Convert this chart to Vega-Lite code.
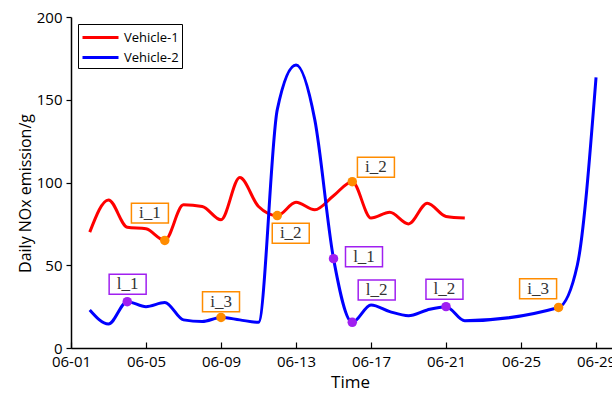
{
  "$schema": "https://vega.github.io/schema/vega-lite/v6.json",
  "autosize": "none",
  "padding": {"left": 71, "top": 17, "right": 0, "bottom": 46},
  "width": 541,
  "height": 331,
  "config": {
    "view": {"stroke": null},
    "font": "Open Sans"
  },
  "datasets": {
    "series": [
      {"date": "2023-06-02T00:00", "value": 70, "series": "Vehicle-1"},
      {"date": "2023-06-03T00:00", "value": 89.5, "series": "Vehicle-1"},
      {"date": "2023-06-04T00:00", "value": 73, "series": "Vehicle-1"},
      {"date": "2023-06-05T00:00", "value": 72, "series": "Vehicle-1"},
      {"date": "2023-06-06T00:00", "value": 65, "series": "Vehicle-1"},
      {"date": "2023-06-07T00:00", "value": 86.5, "series": "Vehicle-1"},
      {"date": "2023-06-08T00:00", "value": 85.5, "series": "Vehicle-1"},
      {"date": "2023-06-09T00:00", "value": 77.5, "series": "Vehicle-1"},
      {"date": "2023-06-10T00:00", "value": 103, "series": "Vehicle-1"},
      {"date": "2023-06-11T00:00", "value": 85.5, "series": "Vehicle-1"},
      {"date": "2023-06-12T00:00", "value": 80, "series": "Vehicle-1"},
      {"date": "2023-06-13T00:00", "value": 88, "series": "Vehicle-1"},
      {"date": "2023-06-14T00:00", "value": 83.5, "series": "Vehicle-1"},
      {"date": "2023-06-15T00:00", "value": 92, "series": "Vehicle-1"},
      {"date": "2023-06-16T00:00", "value": 100.5, "series": "Vehicle-1"},
      {"date": "2023-06-17T00:00", "value": 78.5, "series": "Vehicle-1"},
      {"date": "2023-06-18T00:00", "value": 82, "series": "Vehicle-1"},
      {"date": "2023-06-19T00:00", "value": 75, "series": "Vehicle-1"},
      {"date": "2023-06-20T00:00", "value": 87.5, "series": "Vehicle-1"},
      {"date": "2023-06-21T00:00", "value": 79.5, "series": "Vehicle-1"},
      {"date": "2023-06-22T00:00", "value": 78.5, "series": "Vehicle-1"},
      {"date": "2023-06-02T00:00", "value": 23, "series": "Vehicle-2"},
      {"date": "2023-06-03T00:00", "value": 14.5, "series": "Vehicle-2"},
      {"date": "2023-06-04T00:00", "value": 28, "series": "Vehicle-2"},
      {"date": "2023-06-05T00:00", "value": 25, "series": "Vehicle-2"},
      {"date": "2023-06-06T00:00", "value": 27.5, "series": "Vehicle-2"},
      {"date": "2023-06-07T00:00", "value": 17, "series": "Vehicle-2"},
      {"date": "2023-06-08T00:00", "value": 16, "series": "Vehicle-2"},
      {"date": "2023-06-09T00:00", "value": 18.5, "series": "Vehicle-2"},
      {"date": "2023-06-10T00:00", "value": 17, "series": "Vehicle-2"},
      {"date": "2023-06-11T00:00", "value": 15.5, "series": "Vehicle-2"},
      {"date": "2023-06-12T00:00", "value": 144, "series": "Vehicle-2"},
      {"date": "2023-06-13T00:00", "value": 171, "series": "Vehicle-2"},
      {"date": "2023-06-14T00:00", "value": 138, "series": "Vehicle-2"},
      {"date": "2023-06-15T00:00", "value": 54, "series": "Vehicle-2"},
      {"date": "2023-06-16T00:00", "value": 15.5, "series": "Vehicle-2"},
      {"date": "2023-06-17T00:00", "value": 26, "series": "Vehicle-2"},
      {"date": "2023-06-18T00:00", "value": 22, "series": "Vehicle-2"},
      {"date": "2023-06-19T00:00", "value": 19.5, "series": "Vehicle-2"},
      {"date": "2023-06-20T00:00", "value": 23, "series": "Vehicle-2"},
      {"date": "2023-06-21T00:00", "value": 25, "series": "Vehicle-2"},
      {"date": "2023-06-22T00:00", "value": 16.5, "series": "Vehicle-2"},
      {"date": "2023-06-27T00:00", "value": 24.5, "series": "Vehicle-2"},
      {"date": "2023-06-28T00:00", "value": 50, "series": "Vehicle-2"},
      {"date": "2023-06-29T00:00", "value": 163.5, "series": "Vehicle-2"}
    ],
    "markers": [
      {"date": "2023-06-06T00:00", "value": 65, "type": "i"},
      {"date": "2023-06-12T00:00", "value": 80, "type": "i"},
      {"date": "2023-06-16T00:00", "value": 100.5, "type": "i"},
      {"date": "2023-06-09T00:00", "value": 18.5, "type": "i"},
      {"date": "2023-06-27T00:00", "value": 24.5, "type": "i"},
      {"date": "2023-06-04T00:00", "value": 28, "type": "l"},
      {"date": "2023-06-15T00:00", "value": 54, "type": "l"},
      {"date": "2023-06-16T00:00", "value": 15.5, "type": "l"},
      {"date": "2023-06-21T00:00", "value": 25, "type": "l"}
    ],
    "labels": [
      {"date": "2023-06-05T05:00", "value": 81.5, "text": "i_1", "type": "i"},
      {"date": "2023-06-12T17:15", "value": 69.3, "text": "i_2", "type": "i"},
      {"date": "2023-06-17T06:15", "value": 109.2, "text": "i_2", "type": "i"},
      {"date": "2023-06-09T00:00", "value": 28, "text": "i_3", "type": "i"},
      {"date": "2023-06-25T21:50", "value": 35.8, "text": "i_3", "type": "i"},
      {"date": "2023-06-04T00:30", "value": 38.5, "text": "l_1", "type": "l"},
      {"date": "2023-06-16T15:00", "value": 55.2, "text": "l_1", "type": "l"},
      {"date": "2023-06-17T07:15", "value": 35, "text": "l_2", "type": "l"},
      {"date": "2023-06-20T22:00", "value": 35.5, "text": "l_2", "type": "l"}
    ]
  },
  "encoding": {
    "x": {
      "field": "date",
      "type": "temporal",
      "scale": {
        "domain": [
          {"year": 2023, "month": 6, "date": 1},
          {"year": 2023, "month": 6, "date": 29, "hours": 20, "minutes": 25}
        ]
      },
      "axis": {
        "title": "Time",
        "format": "%m-%d",
        "values": [
          {"year": 2023, "month": 6, "date": 1},
          {"year": 2023, "month": 6, "date": 5},
          {"year": 2023, "month": 6, "date": 9},
          {"year": 2023, "month": 6, "date": 13},
          {"year": 2023, "month": 6, "date": 17},
          {"year": 2023, "month": 6, "date": 21},
          {"year": 2023, "month": 6, "date": 25},
          {"year": 2023, "month": 6, "date": 29}
        ],
        "grid": false,
        "domainColor": "black",
        "domainWidth": 1.5,
        "tickColor": "black",
        "tickWidth": 1.2,
        "tickSize": -6,
        "labelPadding": 12,
        "labelFontSize": 15,
        "labelColor": "black",
        "labelFlush": false,
        "labelOverlap": false,
        "titleFontSize": 17,
        "titleFontWeight": "normal",
        "titleColor": "black",
        "titlePadding": 5,
        "titleX": 279
      }
    },
    "y": {
      "field": "value",
      "type": "quantitative",
      "scale": {"domain": [0, 200]},
      "axis": {
        "title": "Daily NOx emission/g",
        "values": [0, 50, 100, 150, 200],
        "grid": false,
        "domainColor": "black",
        "domainWidth": 1.5,
        "tickColor": "black",
        "tickWidth": 1.2,
        "tickSize": 5,
        "labelPadding": 4,
        "labelFontSize": 15,
        "labelColor": "black",
        "labelFlush": false,
        "titleFontSize": 16,
        "titleFontWeight": "normal",
        "titleColor": "black",
        "titlePadding": 3,
        "titleY": 176
      }
    }
  },
  "layer": [
    {
      "mark": {"type": "rule", "color": "black", "strokeWidth": 1.5},
      "encoding": {"x": null, "y": {"datum": 200}}
    },
    {
      "data": {"name": "series"},
      "mark": {"type": "line", "interpolate": "monotone", "strokeWidth": 3},
      "encoding": {
        "color": {
          "field": "series",
          "type": "nominal",
          "scale": {"domain": ["Vehicle-1", "Vehicle-2"], "range": ["#FF0000", "#0000FF"]},
          "legend": {
            "title": null,
            "orient": "top-left",
            "offset": 7,
            "strokeColor": "black",
            "padding": 3,
            "symbolType": "M-1,0H3",
            "symbolSize": 324,
            "symbolStrokeWidth": 3,
            "labelFontSize": 13,
            "labelColor": "black",
            "labelOffset": 22,
            "rowPadding": 2,
            "fillColor": "white"
          }
        }
      }
    },
    {
      "data": {"name": "markers"},
      "mark": {"type": "point", "shape": "circle", "filled": true, "size": 90, "opacity": 1},
      "encoding": {
        "fill": {
          "field": "type",
          "type": "nominal",
          "scale": {"domain": ["i", "l"], "range": ["#FF8C00", "#A020F0"]},
          "legend": null
        }
      }
    },
    {
      "data": {"name": "labels"},
      "mark": {"type": "point", "shape": "M-1,-0.54H1V0.54H-1Z", "size": 1369, "fill": "white", "fillOpacity": 1, "strokeWidth": 1.5, "opacity": 1},
      "encoding": {
        "stroke": {
          "field": "type",
          "type": "nominal",
          "scale": {"domain": ["i", "l"], "range": ["#FF8C00", "#A020F0"]},
          "legend": null
        }
      }
    },
    {
      "data": {"name": "labels"},
      "mark": {"type": "text", "font": "Liberation Serif", "fontSize": 17, "color": "#333333", "align": "center", "baseline": "middle"},
      "encoding": {"text": {"field": "text"}}
    }
  ]
}
